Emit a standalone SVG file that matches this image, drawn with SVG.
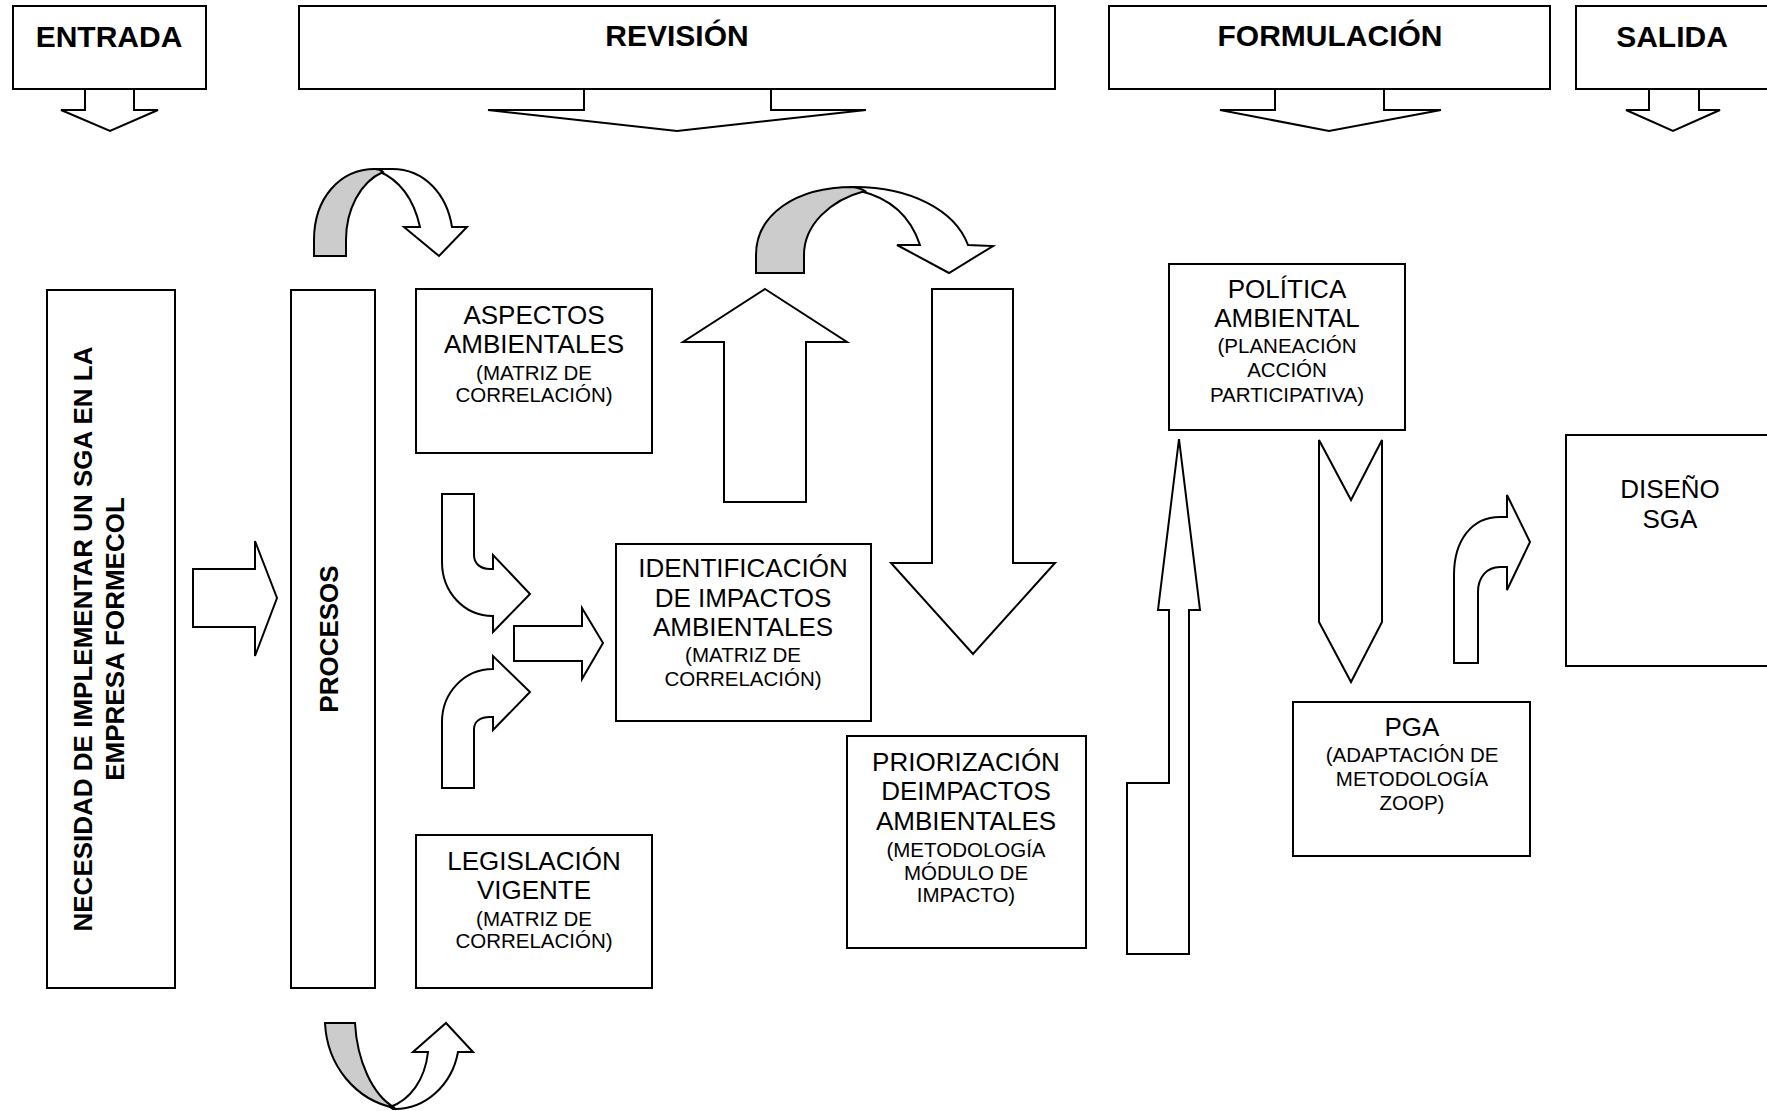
<svg xmlns="http://www.w3.org/2000/svg" width="1767" height="1111" viewBox="0 0 1767 1111">
<style>
.box{fill:#fff;stroke:#000;stroke-width:2}
.arr{fill:#fff;stroke:#000;stroke-width:2;stroke-linejoin:miter}
.gray{fill:#cccccc;stroke:#000;stroke-width:2}
.h{font-family:"Liberation Sans",Arial,sans-serif;font-weight:bold;font-size:30px;text-anchor:middle;fill:#000}
.v{font-family:"Liberation Sans",Arial,sans-serif;font-weight:bold;font-size:26px;text-anchor:middle;fill:#000}
.t{font-family:"Liberation Sans",Arial,sans-serif;font-size:26px;text-anchor:middle;fill:#000}
.s{font-family:"Liberation Sans",Arial,sans-serif;font-size:20.5px;text-anchor:middle;fill:#000}
</style>
<rect width="1767" height="1111" fill="#fff"/>

<g id="entrada">
<rect class="box" x="13" y="6" width="193" height="83"/>
<text class="h" x="109" y="47">ENTRADA</text>
</g>
<g id="revision">
<rect class="box" x="299" y="6" width="756" height="83"/>
<text class="h" x="677" y="46">REVISIÓN</text>
</g>
<g id="formulacion">
<rect class="box" x="1109" y="6" width="441" height="83"/>
<text class="h" x="1330" y="46">FORMULACIÓN</text>
</g>
<g id="salida">
<rect class="box" x="1576" y="6" width="196" height="83"/>
<text class="h" x="1672" y="47">SALIDA</text>
</g>

<g id="necesidad">
<rect class="box" x="47" y="290" width="128" height="698"/>
<text class="v" transform="translate(92,639) rotate(-90)">NECESIDAD DE IMPLEMENTAR UN SGA EN LA</text>
<text class="v" transform="translate(124,639) rotate(-90)">EMPRESA FORMECOL</text>
</g>
<g id="procesos">
<rect class="box" x="291" y="290" width="84" height="698"/>
<text class="v" transform="translate(338,639) rotate(-90)">PROCESOS</text>
</g>
<g id="aspectos">
<rect class="box" x="416" y="289" width="236" height="164"/>
<text class="t" x="534" y="324">ASPECTOS</text>
<text class="t" x="534" y="353">AMBIENTALES</text>
<text class="s" x="534" y="380">(MATRIZ DE</text>
<text class="s" x="534" y="402">CORRELACIÓN)</text>
</g>
<g id="identificacion">
<rect class="box" x="616" y="544" width="255" height="177"/>
<text class="t" x="743" y="577">IDENTIFICACIÓN</text>
<text class="t" x="743" y="607">DE IMPACTOS</text>
<text class="t" x="743" y="636">AMBIENTALES</text>
<text class="s" x="743" y="662">(MATRIZ DE</text>
<text class="s" x="743" y="686">CORRELACIÓN)</text>
</g>
<g id="legislacion">
<rect class="box" x="416" y="835" width="236" height="153"/>
<text class="t" x="534" y="870">LEGISLACIÓN</text>
<text class="t" x="534" y="899">VIGENTE</text>
<text class="s" x="534" y="926">(MATRIZ DE</text>
<text class="s" x="534" y="948">CORRELACIÓN)</text>
</g>
<g id="priorizacion">
<rect class="box" x="847" y="736" width="239" height="212"/>
<text class="t" x="966" y="771">PRIORIZACIÓN</text>
<text class="t" x="966" y="800">DEIMPACTOS</text>
<text class="t" x="966" y="830">AMBIENTALES</text>
<text class="s" x="966" y="857">(METODOLOGÍA</text>
<text class="s" x="966" y="880">MÓDULO DE</text>
<text class="s" x="966" y="902">IMPACTO)</text>
</g>
<g id="politica">
<rect class="box" x="1169" y="264" width="236" height="166"/>
<text class="t" x="1287" y="298">POLÍTICA</text>
<text class="t" x="1287" y="327">AMBIENTAL</text>
<text class="s" x="1287" y="353">(PLANEACIÓN</text>
<text class="s" x="1287" y="377">ACCIÓN</text>
<text class="s" x="1287" y="402">PARTICIPATIVA)</text>
</g>
<g id="pga">
<rect class="box" x="1293" y="702" width="237" height="154"/>
<text class="t" x="1412" y="736">PGA</text>
<text class="s" x="1412" y="762">(ADAPTACIÓN DE</text>
<text class="s" x="1412" y="786">METODOLOGÍA</text>
<text class="s" x="1412" y="810">ZOOP)</text>
</g>
<g id="diseno">
<rect class="box" x="1566" y="435" width="210" height="231"/>
<text class="t" x="1670" y="498">DISEÑO</text>
<text class="t" x="1670" y="528">SGA</text>
</g>

<g id="connectors">
<!-- header arrows -->
<polygon class="arr" points="85,89 85,110 61,110 110,131 158,110 134,110 134,89"/>
<polygon class="arr" points="584,89 584,110 488,110 677,131 866,110 771,110 771,89"/>
<polygon class="arr" points="1275,89 1275,110 1220,110 1329,131 1441,110 1384,110 1384,89"/>
<polygon class="arr" points="1649,89 1649,110 1626,110 1673,131 1720,110 1699,110 1699,89"/>
<!-- necesidad to procesos -->
<polygon class="arr" points="193,569 255,569 255,541 277,598 255,656 255,627 193,627"/>
<!-- top-left curved arrow -->
<path class="arr" d="M372,169 L392,169 C425,169 447,195 452,227 L467,227 L439,256 L404,227 L420,227 C414,200 400,180 378,171 Z"/>
<path class="gray" d="M314,256 L314,240 C314,198 340,169 375,169 C378,169 381,170 383,172 C360,182 346,210 346,240 L346,256 Z"/>
<!-- bottom-left curved arrow -->
<path class="arr" d="M393,1109 C425,1110 452,1085 458,1052 L473,1052 L446,1023 L413,1052 L428,1052 C425,1080 410,1100 390,1107 Z"/>
<path class="gray" d="M325,1023 L355,1023 C357,1060 372,1095 395,1108 C355,1100 327,1065 325,1023 Z"/>
<!-- bent arrows into identificacion -->
<path class="arr" d="M442,494 L474,494 L474,555 C474,564 481,569 490,569 L493,569 L493,555 L530,594 L493,632 L493,616 C464,616 442,592 442,562 Z"/>
<path class="arr" d="M442,788 L474,788 L474,729 C474,721 481,717 490,717 L493,717 L493,730 L530,692 L493,656 L493,669 C464,669 442,693 442,722 Z"/>
<polygon class="arr" points="514,626 582,626 582,608 603,643 582,679 582,661 514,661"/>
<!-- up arrow -->
<polygon class="arr" points="765,289 847,342 806,342 806,502 724,502 724,342 683,342"/>
<!-- top-middle curved arrow -->
<path class="arr" d="M850,187 L855,187 C910,187 955,210 968,245 L993,246 L949,273 L897,245 L920,245 C910,215 890,198 860,191 Z"/>
<path class="gray" d="M756,273 L756,255 C756,215 795,187 853,187 C858,188 862,189 865,191 C830,200 804,225 804,255 L804,273 Z"/>
<!-- down arrow -->
<polygon class="arr" points="932,289 1013,289 1013,563 1055,563 973,654 891,563 932,563"/>
<!-- tall up arrow -->
<polygon class="arr" points="1179,439 1200,610 1189,610 1189,954 1127,954 1127,783 1169,783 1169,610 1158,610"/>
<!-- chevron down -->
<polygon class="arr" points="1319,440 1351,500 1382,440 1382,622 1351,682 1319,622"/>
<!-- bent arrow to diseno -->
<path class="arr" d="M1454,663 L1454,575 C1454,540 1472,517 1500,517 L1507,517 L1507,495 L1530,542 L1507,590 L1507,567 L1500,567 C1487,567 1478,577 1478,592 L1478,663 Z"/>
</g>
</svg>
